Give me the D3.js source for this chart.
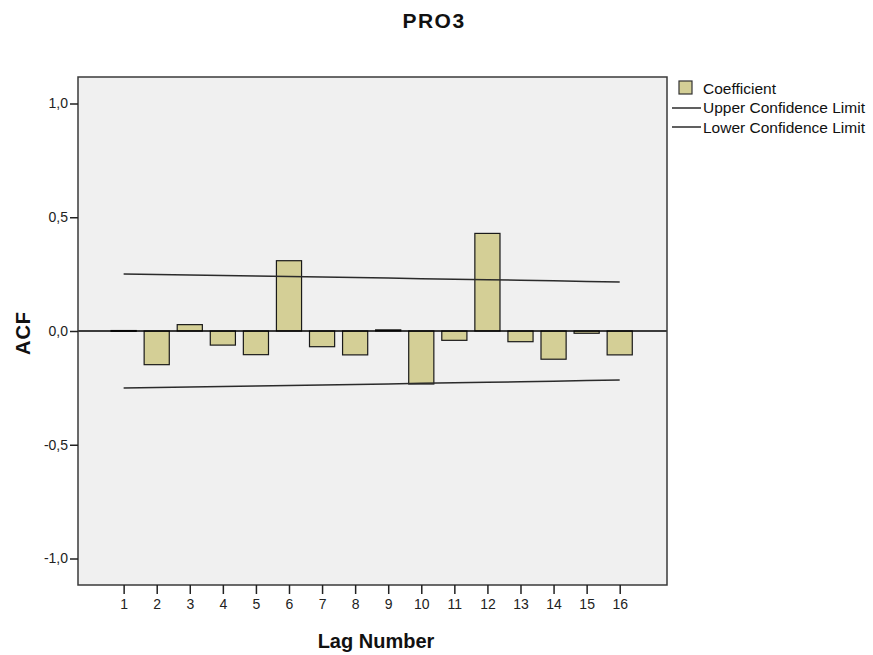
<!DOCTYPE html>
<html>
<head>
<meta charset="utf-8">
<script src="https://cdn.jsdelivr.net/npm/d3@7"></script>
<style>
  html, body { margin: 0; padding: 0; background: #ffffff; }
  svg { display: block; font-family: "Liberation Sans", Arial, sans-serif; }
</style>
</head>
<body>
<svg id="chart" width="873" height="655"></svg>
<script>
const lags = [1, 2, 3, 4, 5, 6, 7, 8, 9, 10, 11, 12, 13, 14, 15, 16];
const coefficient = [0.002, -0.148, 0.028, -0.062, -0.104, 0.309, -0.069, -0.105, 0.005, -0.233, -0.041, 0.429, -0.047, -0.124, -0.010, -0.105];
const upperLimit = [0.2508, 0.2486, 0.2464, 0.2442, 0.2419, 0.2396, 0.2373, 0.2349, 0.2326, 0.2302, 0.2278, 0.2253, 0.2229, 0.2204, 0.2179, 0.2153];
const lowerLimit = [-0.2508, -0.2486, -0.2464, -0.2442, -0.2419, -0.2396, -0.2373, -0.2349, -0.2326, -0.2302, -0.2278, -0.2253, -0.2229, -0.2204, -0.2179, -0.2153];
const yTicks = [1.0, 0.5, 0.0, -0.5, -1.0];
const yTickLabels = ["1,0", "0,5", "0,0", "-0,5", "-1,0"];
const legendLabels = ["Coefficient", "Upper Confidence Limit", "Lower Confidence Limit"];

const svg = d3.select("#chart");
const plot = { left: 78, top: 77, right: 667, bottom: 585 };

const x = d3.scaleLinear().domain([-0.38, 17.43]).range([plot.left, plot.right]);
const y = d3.scaleLinear().domain([-1, 1]).range([558.5, 103.5]);

const barColor = "#d4cf96";
const lineColor = "#2b2b2b";

// plot background
svg.append("rect")
  .attr("x", plot.left).attr("y", plot.top)
  .attr("width", plot.right - plot.left).attr("height", plot.bottom - plot.top)
  .attr("fill", "#f0f0f0");

// bars
const step = x(2) - x(1);
const bw = step * 0.76;
svg.append("g").selectAll("rect")
  .data(lags.map((l, i) => ({ lag: l, v: coefficient[i] })))
  .join("rect")
  .attr("x", d => x(d.lag) - bw / 2)
  .attr("y", d => Math.min(y(d.v), y(0)))
  .attr("width", bw)
  .attr("height", d => Math.max(Math.abs(y(d.v) - y(0)), 0.8))
  .attr("fill", barColor)
  .attr("stroke", "#1a1a1a")
  .attr("stroke-width", 1.2);

// zero line
svg.append("line")
  .attr("x1", plot.left).attr("x2", plot.right)
  .attr("y1", y(0)).attr("y2", y(0))
  .attr("stroke", "#000").attr("stroke-width", 1.5);

// confidence limits
const lineGen = d3.line().x(d => x(d[0])).y(d => y(d[1]));
svg.append("path")
  .attr("d", lineGen(lags.map((l, i) => [l, upperLimit[i]])))
  .attr("fill", "none").attr("stroke", lineColor).attr("stroke-width", 1.5);
svg.append("path")
  .attr("d", lineGen(lags.map((l, i) => [l, lowerLimit[i]])))
  .attr("fill", "none").attr("stroke", lineColor).attr("stroke-width", 1.5);

// plot border
svg.append("rect")
  .attr("x", plot.left).attr("y", plot.top)
  .attr("width", plot.right - plot.left).attr("height", plot.bottom - plot.top)
  .attr("fill", "none").attr("stroke", "#3a3a3a").attr("stroke-width", 1.5);

// y axis
const yAxis = d3.axisLeft(y).tickValues(yTicks)
  .tickFormat((d, i) => yTickLabels[i]).tickSize(8).tickPadding(2);
const gy = svg.append("g").attr("transform", `translate(${plot.left},0)`).call(yAxis);
gy.attr("font-size", null).attr("font-family", null);
gy.select(".domain").remove();
gy.selectAll(".tick line").attr("stroke", "#222").attr("stroke-width", 1.5);
gy.selectAll(".tick text").attr("fill", "#222").style("font-size", "14px")
  .style("font-family", "'Liberation Sans', Arial, sans-serif");

// x axis
const xAxis = d3.axisBottom(x).tickValues(lags).tickFormat(d3.format("d")).tickSize(9).tickPadding(5);
const gx = svg.append("g").attr("transform", `translate(0,${plot.bottom})`).call(xAxis);
gx.attr("font-size", null).attr("font-family", null);
gx.select(".domain").remove();
gx.selectAll(".tick line").attr("stroke", "#222").attr("stroke-width", 1.5);
gx.selectAll(".tick text").attr("fill", "#222").style("font-size", "14px")
  .style("font-family", "'Liberation Sans', Arial, sans-serif");

// title
svg.append("text").attr("x", 434).attr("y", 28).attr("text-anchor", "middle")
  .style("font-size", "21px").style("font-weight", "bold").style("letter-spacing", "1.5px")
  .attr("fill", "#111").text("PRO3");

// axis titles
svg.append("text").attr("x", 376).attr("y", 648).attr("text-anchor", "middle")
  .style("font-size", "20px").style("font-weight", "bold").attr("fill", "#111").text("Lag Number");
svg.append("text").attr("transform", `translate(30,${y(0) + 2}) rotate(-90)`).attr("text-anchor", "middle")
  .style("font-size", "20px").style("font-weight", "bold").style("letter-spacing", "1px")
  .attr("fill", "#111").text("ACF");

// legend
const lg = svg.append("g").attr("transform", "translate(672,0)");
lg.append("rect").attr("x", 7).attr("y", 81).attr("width", 13).attr("height", 13)
  .attr("fill", barColor).attr("stroke", "#333").attr("stroke-width", 1.2);
lg.append("line").attr("x1", 0).attr("x2", 29).attr("y1", 108).attr("y2", 108)
  .attr("stroke", lineColor).attr("stroke-width", 1.5);
lg.append("line").attr("x1", 0).attr("x2", 29).attr("y1", 127).attr("y2", 127)
  .attr("stroke", lineColor).attr("stroke-width", 1.5);
lg.selectAll("text.leg").data(legendLabels).join("text")
  .attr("class", "leg")
  .attr("x", 31).attr("y", (d, i) => 93.5 + i * 19.5)
  .style("font-size", "15.5px").attr("fill", "#111").text(d => d);
</script>
</body>
</html>
